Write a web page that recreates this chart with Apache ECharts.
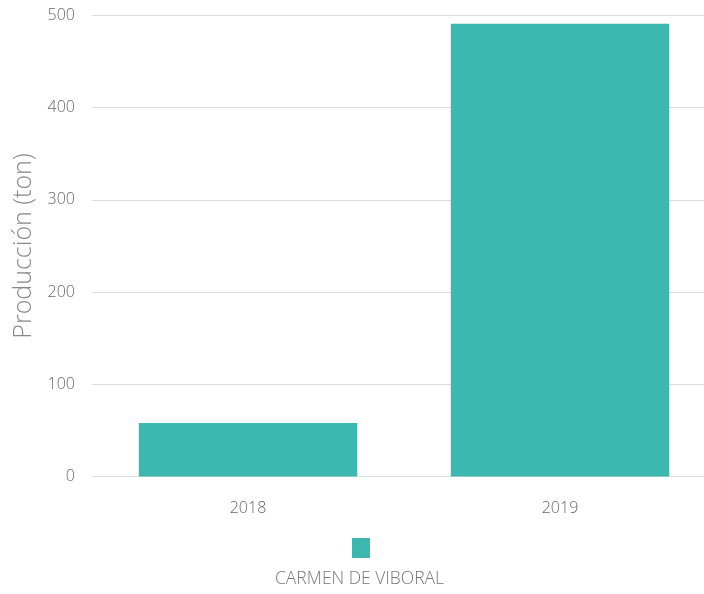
<!DOCTYPE html>
<html>
<head>
<meta charset="utf-8">
<script src="https://cdn.jsdelivr.net/npm/echarts@6/dist/echarts.min.js"></script>
<style>
html,body{margin:0;padding:0;background:#fff;}
#chart{width:704px;height:594px;}
</style>
</head>
<body>
<div id="chart"></div>
<script>
const categories = ['2018', '2019'];
const seriesName = 'CARMEN DE VIBORAL';
const values = [58, 491];
const yTicks = [0, 100, 200, 300, 400, 500];

const chart = echarts.init(document.getElementById('chart'));
const fontFam = '"Open Sans", "Noto Sans", sans-serif';
chart.setOption({
  animation: false,
  grid: { left: 92, width: 624, top: 15.5, bottom: 117.5, outerBoundsMode: 'none', containLabel: false },
  legend: {
    data: [seriesName],
    left: 347, top: 533,
    icon: 'rect', itemWidth: 18, itemHeight: 20,
    formatter: function(){ return ''; },
    selectedMode: false
  },
  graphic: [{
    type: 'text', left: 275, top: 570,
    style: { text: seriesName, fill: '#777', font: '300 17.5px ' + fontFam }
  }],
  xAxis: {
    type: 'category', data: categories,
    axisLine: { show: false }, axisTick: { show: false },
    axisLabel: { color: '#666', fontSize: 16, margin: 24, fontFamily: fontFam, fontWeight: 300 }
  },
  yAxis: {
    type: 'value', min: yTicks[0], max: yTicks[yTicks.length - 1], interval: 100,
    name: 'Producción (ton)', nameLocation: 'middle', nameGap: 54,
    nameTextStyle: { color: '#888', fontSize: 25, fontFamily: fontFam, fontWeight: 300 },
    axisLine: { show: false }, axisTick: { show: false },
    axisLabel: { color: '#666', fontSize: 16, margin: 17, fontFamily: fontFam, fontWeight: 300 },
    splitLine: { lineStyle: { color: '#dcdcdc', width: 1 } }
  },
  series: [{
    name: seriesName, type: 'bar', data: values,
    barCategoryGap: '30%',
    itemStyle: { color: '#3CB8B0' }
  }]
});
</script>
</body>
</html>
